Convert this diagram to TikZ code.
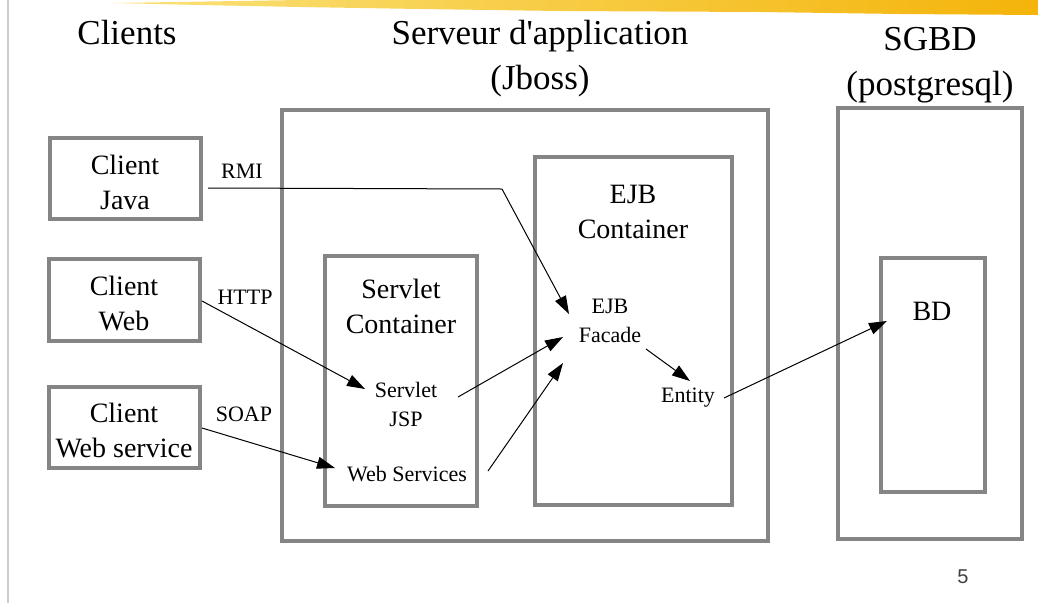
\documentclass[tikz,border=0pt]{standalone}
\usepackage{fontspec}
\setmainfont[Ligatures=TeXOff]{Liberation Serif}
\newfontfamily\pagefont{Liberation Sans}
\usetikzlibrary{arrows.meta}
\definecolor{boxgray}{HTML}{858585}
\definecolor{brushA}{HTML}{FAE27A}
\definecolor{brushB}{HTML}{F7CB2A}
\definecolor{brushC}{HTML}{F4B40A}
\definecolor{pagegray}{HTML}{404040}
\tikzset{
  frame/.style={draw=boxgray, line width=4pt, inner sep=0pt},
  head/.style={font=\fontsize{35}{45}\selectfont, align=center, inner sep=0pt},
  boxtext/.style={font=\fontsize{28}{35}\selectfont, align=center, inner sep=0pt},
  small/.style={font=\fontsize{22}{29}\selectfont, align=center, inner sep=0pt},
  link/.style={draw=black, line width=1pt, -{Triangle[length=18pt,width=12pt]}},
  plain/.style={draw=black, line width=1pt}
}
\begin{document}
\begin{tikzpicture}[x=1pt,y=-1pt]
\useasboundingbox (0,0) rectangle (1038,603);
% top brush stroke
\shade[left color=brushA, middle color=brushB, right color=brushC]
  (113,3) -- (300,0) -- (1038,0) -- (1038,15) -- (900,14) -- (760,12) -- (560,11)
  -- (420,9) -- (300,7) -- (200,5) -- cycle;
% left margin line
\draw[color=gray!40, line width=1.5pt] (8,0) -- (8,603);

% headings
\node[head] (hcl) at (127,33) {Clients};
\node[head] (hsrv) at (540,59) {Serveur d'application\\(Jboss)};
\node[head] (hdb) at (930,65) {SGBD\\(postgresql)};

% frames
\node[frame, minimum width=486pt, minimum height=431pt] (srv) at (525,325.5) {};
\node[frame, minimum width=184pt, minimum height=431pt] (sgbd) at (930,323.5) {};
\node[frame, minimum width=197pt, minimum height=348pt] (ejb) at (633.5,331) {};
\node[frame, minimum width=152pt, minimum height=250pt] (svc) at (401,381) {};
\node[frame, minimum width=104pt, minimum height=234pt] (bd) at (933,375) {};
\node[frame, minimum width=151pt, minimum height=81pt] (cj) at (125.5,178.5) {};
\node[frame, minimum width=151pt, minimum height=82pt] (cw) at (124.5,300) {};
\node[frame, minimum width=151pt, minimum height=81pt] (cws) at (124.5,427.5) {};

% frame texts
\node[boxtext] (tcj) at (125,182) {Client\\Java};
\node[boxtext] (tcw) at (124,303) {Client\\Web};
\node[boxtext] (tcws) at (124,430) {Client\\Web service};
\node[boxtext] (tsvc) at (401,306) {Servlet\\Container};
\node[boxtext] (tejb) at (633,212) {EJB\\Container};
\node[boxtext] (tbd) at (932,311) {BD};

% small labels
\node[small] (rmi) at (242,171) {RMI};
\node[small] (http) at (245,297) {HTTP};
\node[small] (soap) at (244,414) {SOAP};
\node[small] (fac) at (610,321) {EJB\\Facade};
\node[small] (jsp) at (406,404) {Servlet\\JSP};
\node[small] (ws) at (407,474) {Web Services};
\node[small] (ent) at (688,398) {Entity};

% page number
\node[font=\pagefont\fontsize{20}{24}\selectfont, text=pagegray, inner sep=0pt] (pg) at (963,577) {5};

% connector end points
\coordinate (rmiS) at (208,188);
\coordinate (rmiB) at (502,189);
\coordinate (rmiT) at (569,314);
\coordinate (httpS) at (202,301);
\coordinate (httpT) at (365,389);
\coordinate (soapS) at (202,428);
\coordinate (soapT) at (335,468);
\coordinate (jspS) at (458,397);
\coordinate (facT1) at (563,337);
\coordinate (wsS) at (488,471);
\coordinate (facT2) at (563,363);
\coordinate (facS) at (646,349);
\coordinate (entT) at (690,381);
\coordinate (entS) at (724,398);
\coordinate (bdT) at (887,321);

% connectors
\draw[link] (rmiS) -- (rmiB) -- (rmiT);
\draw[link] (httpS) -- (httpT);
\draw[link] (soapS) -- (soapT);
\draw[link] (jspS) -- (facT1);
\draw[link] (wsS) -- (facT2);
\draw[link] (facS) -- (entT);
\draw[link] (entS) -- (bdT);
\end{tikzpicture}
\end{document}
